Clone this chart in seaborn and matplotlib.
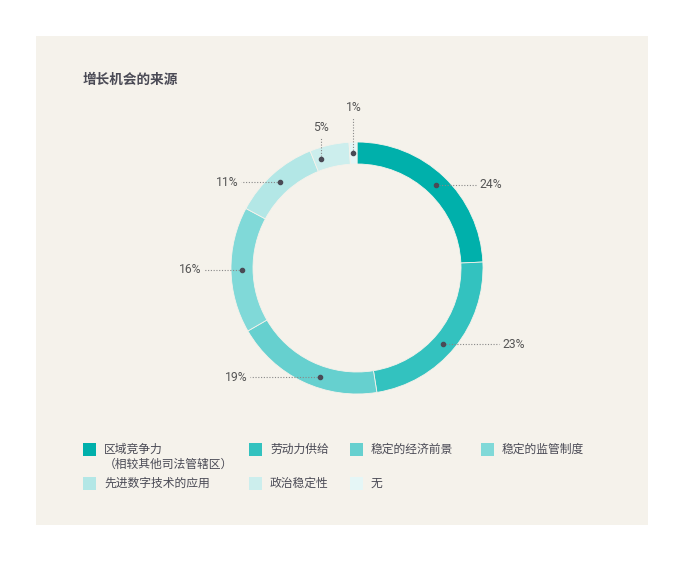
import numpy as np
import seaborn as sns
import matplotlib.pyplot as plt
from matplotlib.patches import Rectangle

# 数据
categories = ["区域竞争力\n（相较其他司法管辖区）", "劳动力供给", "稳定的经济前景", "稳定的监管制度",
              "先进数字技术的应用", "政治稳定性", "无"]
values = [24, 23, 19, 16, 11, 5, 1]
colors = ["#00b0ab", "#33c2bf", "#66d0cf", "#80d9d8", "#b3e7e6", "#cceeed", "#e5f6f6"]

# leader lines: (direction, length in px, dot position within wedge)
leaders = [("h", 40, 0.5), ("h", 56, 0.53), ("h", 70, 0.4), ("h", 38, 0.5),
           ("h", 39, 0.5), ("v", 22, 0.2), ("v", 36, 0.5)]

W, H = 684, 562
sns.set_theme(style="white")
plt.rcParams["font.family"] = ["Noto Sans CJK SC", "DejaVu Sans"]

fig = plt.figure(figsize=(W / 100, H / 100), dpi=100)
fig.patch.set_facecolor("white")
ax = fig.add_axes([0, 0, 1, 1])

# panel
ax.add_patch(Rectangle((36, H - 525), 612, 489, facecolor="#f5f2eb", edgecolor="none", zorder=0))

cx, cy, r_out, r_in = 357, H - 268, 126, 104
wedges, _ = ax.pie(values, colors=colors, startangle=90, counterclock=False,
                   radius=r_out, center=(cx, cy), frame=True,
                   wedgeprops=dict(width=r_out - r_in, edgecolor="#f5f2eb", linewidth=0.6))
ax.set_xlim(0, W)
ax.set_ylim(0, H)
ax.set_aspect("equal")
ax.axis("off")

r_mid = (r_out + r_in) / 2
text_kw = dict(fontsize=8.7, color="#555555", family=["Roboto", "DejaVu Sans"])
for w, v, (d, L, f) in zip(wedges, values, leaders):
    ang = np.deg2rad(w.theta2 - f * (w.theta2 - w.theta1))
    px, py = cx + r_mid * np.cos(ang), cy + r_mid * np.sin(ang)
    ax.plot(px, py, "o", color="#4a4a55", ms=3, zorder=5)
    if d == "h":
        sgn = 1 if np.cos(ang) > 0 else -1
        ex = px + sgn * L
        ax.plot([px, ex], [py, py], ls=(0, (1, 1.5)), color="#888888", lw=0.8, zorder=4)
        ax.text(ex + sgn * 3, py, f"{v}%", ha="left" if sgn > 0 else "right",
                va="center", **text_kw)
    else:
        ey = py + L
        ax.plot([px, px], [py, ey], ls=(0, (1, 1.5)), color="#888888", lw=0.8, zorder=4)
        ax.text(px, ey + 3, f"{v}%", ha="center", va="bottom", **text_kw)

# title
ax.text(83, H - 80, "增长机会的来源", fontsize=9.8, fontweight="bold", color="#4a4a55",
        ha="left", va="center")

# legend
col_x = [83, 249, 350, 481]
row_y = [449, 483]
for i, (lab, c) in enumerate(zip(categories, colors)):
    x = col_x[i % 4]
    y = row_y[i // 4]
    ax.add_patch(Rectangle((x, H - y - 6.5), 13, 13, facecolor=c, edgecolor="none"))
    ax.text(x + 21, H - y + 6, lab, fontsize=8.5, color="#4a4a55", ha="left", va="top",
            linespacing=1.2)

fig.savefig("out.png", dpi=100, facecolor="white")
